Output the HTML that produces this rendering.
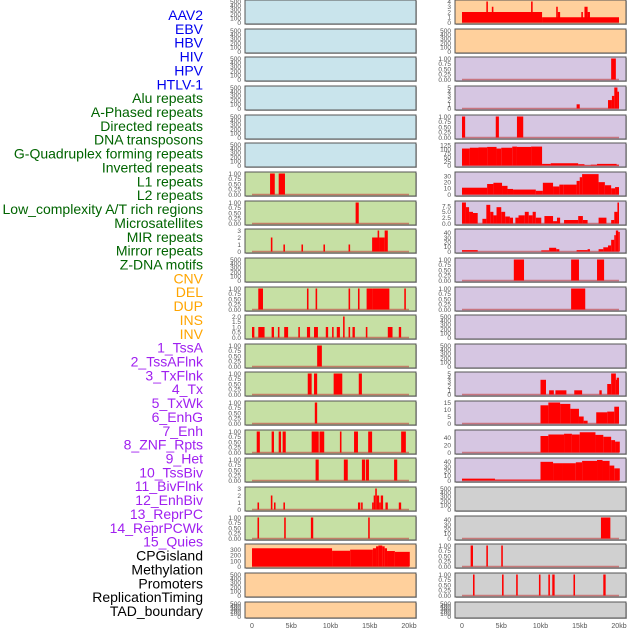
<!DOCTYPE html>
<html><head><meta charset="utf-8"><style>
body{margin:0;background:#fff;}
svg{display:block;font-family:"Liberation Sans",sans-serif;}
</style></head><body>
<svg id="c" width="630" height="630" viewBox="0 0 630 630"></svg>
<script>
const labels=["AAV2","EBV","HBV","HIV","HPV","HTLV-1","Alu repeats","A-Phased repeats","Directed repeats","DNA transposons","G-Quadruplex forming repeats","Inverted repeats","L1 repeats","L2 repeats","Low_complexity A/T rich regions","Microsatellites","MIR repeats","Mirror repeats","Z-DNA motifs","CNV","DEL","DUP","INS","INV","1_TssA","2_TssAFlnk","3_TxFlnk","4_Tx","5_TxWk","6_EnhG","7_Enh","8_ZNF_Rpts","9_Het","10_TssBiv","11_BivFlnk","12_EnhBiv","13_ReprPC","14_ReprPCWk","15_Quies","CPGisland","Methylation","Promoters","ReplicationTiming","TAD_boundary"];
const labelColors=["#0000ee","#0000ee","#0000ee","#0000ee","#0000ee","#0000ee","#006400","#006400","#006400","#006400","#006400","#006400","#006400","#006400","#006400","#006400","#006400","#006400","#006400","#ffa500","#ffa500","#ffa500","#ffa500","#ffa500","#a020f0","#a020f0","#a020f0","#a020f0","#a020f0","#a020f0","#a020f0","#a020f0","#a020f0","#a020f0","#a020f0","#a020f0","#a020f0","#a020f0","#a020f0","#000","#000","#000","#000","#000"];
const xTicks=[0,5,10,15,20];
const xTickLabels=["0","5kb","10kb","15kb","20kb"];
const E=[0,100,200,300,400,500], P=[0,0.25,0.5,0.75,1];
const leftBg=["#c9e4ec","#c9e4ec","#c9e4ec","#c9e4ec","#c9e4ec","#c9e4ec","#c6e0a4","#c6e0a4","#c6e0a4","#c6e0a4","#c6e0a4","#c6e0a4","#c6e0a4","#c6e0a4","#c6e0a4","#c6e0a4","#c6e0a4","#c6e0a4","#c6e0a4","#ffd09c","#ffd09c","#ffd09c"];
const rightBg=["#ffd09c","#ffd09c","#d6c6e2","#d6c6e2","#d6c6e2","#d6c6e2","#d6c6e2","#d6c6e2","#d6c6e2","#d6c6e2","#d6c6e2","#d6c6e2","#d6c6e2","#d6c6e2","#d6c6e2","#d6c6e2","#d6c6e2","#d0d0d0","#d0d0d0","#d0d0d0","#d0d0d0","#d0d0d0"];
const leftTicks=[E,E,E,E,E,E,P,P,[0,1,2,3],E,P,[0,0.5,1,1.5,2],P,P,P,P,P,[0,1,2,3],P,[0,100,200,300],E,E];
const leftDec=[0,0,0,0,0,0,2,2,0,0,2,1,2,2,2,2,2,0,2,0,0,0];
const leftMax=[500,500,500,500,500,500,1,1,3,500,1,2,1,1,1,1,1,3,1,380,500,500];
const rightTicks=[[0,1,2,3,4],E,P,[0,1,2,3,4,5],P,[0,25,50,75,100,125],[0,10,20,30],[0,2.5,5,7.5],[0,10,20,30,40],P,P,E,E,[0,1,2,3,4,5],[0,5,10,15],[0,20,40],[0,10,20,30,40],E,[0,10,20,30,40],P,P,E];
const rightDec=[0,0,2,0,2,0,0,1,0,2,2,0,0,0,0,0,0,0,0,2,2,0];
const rightMax=[4,500,1,5,1,130,34,9,45,1,1,500,500,5,15,56,45,500,45,1,1,500];
const leftBars=[[],[],[],[],[],[],
[[2.3,2.9,1],[3.4,4.2,1]],
[[13.2,13.6,1]],
[[2.4,2.6,2],[4.0,4.2,1],[6.3,6.5,1],[9.1,9.3,1],[12.3,12.5,1],[15.3,16.3,2],[16.0,16.2,3],[16.3,16.9,2],[16.9,17.3,3]],
[],
[[0.8,1.4,1],[7.0,7.2,1],[8.1,8.3,1],[12.3,12.5,1],[13.5,13.7,1],[14.6,15.3,1],[15.3,17.5,1],[19.4,19.6,1]],
[[0.0,0.3,1],[0.8,1.6,1],[2.5,2.8,1],[3.3,3.5,1],[4.1,4.6,1],[5.9,6.1,1],[7.0,7.4,1],[7.9,8.4,1],[9.4,9.7,1],[10.2,10.4,1],[10.8,11.2,1],[11.6,11.8,2],[12.3,12.5,1],[12.8,13.1,1],[14.5,14.7,1],[17.3,17.9,1],[18.7,19.0,1]],
[[8.3,8.9,1]],
[[7.1,7.6,1],[7.9,8.3,1],[10.4,11.5,1],[13.6,14.0,1]],
[[8.0,8.3,1]],
[[0.6,1.0,1],[2.5,2.8,1],[3.4,3.7,1],[3.9,4.3,1],[7.6,8.5,1],[8.6,9.2,1],[11.2,11.4,1],[13.0,13.5,1],[14.8,15.3,1],[19.0,19.6,1]],
[[8.1,8.5,1],[11.7,12.2,1],[14.0,14.4,1],[14.5,14.9,1],[18.1,18.5,1]],
[[0.7,0.9,1],[2.4,2.6,2],[2.8,3.0,1],[4.0,4.2,1],[13.5,13.8,1],[13.9,14.1,1],[15.3,15.5,1],[15.5,15.7,2],[15.7,15.9,3],[15.9,16.2,2],[16.2,16.4,1],[16.4,16.7,2],[17.0,17.3,1],[18.7,19.0,1]],
[[0.7,0.9,1],[4.1,4.3,1],[7.5,7.8,1],[14.8,15.0,1]],
[[0,10.2,330],[10.2,12.5,285],[12.5,15.4,305],[15.4,15.8,330],[15.8,16.1,365],[16.1,16.6,380],[16.6,16.9,365],[16.9,17.2,330],[17.2,18.2,280],[18.2,20.1,265]],
[],[]];
const rightBars=[
[[0,10.2,2],[10.2,20,1],[3.1,3.3,4],[3.8,4.0,3],[8.8,9.0,4],[12.0,12.2,3],[12.2,12.5,2],[15.2,15.4,2],[15.6,16.0,3],[16.0,16.3,2]],
[],
[[19.0,19.6,1]],
[[14.6,15.0,1],[18.6,19.1,2],[19.1,19.4,3],[19.4,19.8,5],[19.8,20.0,4]],
[[0,0.4,1],[4.3,4.7,1],[7.0,7.8,1]],
[[0,1,105],[1,2.1,110],[2.1,3.2,112],[3.2,4.4,115],[4.4,5.0,105],[5.0,6.4,110],[6.4,7.0,117],[7.0,8.8,115],[8.8,10.2,117],[10.2,11.3,10],[11.3,14.8,14],[14.8,15.6,8],[15.6,16.4,2],[16.4,17.2,5],[17.2,19.7,10],[19.7,20.0,5]],
[[0,3.2,11],[3.2,4.0,17],[4.0,5.1,19],[5.1,5.8,14],[5.8,6.5,9],[6.5,9.4,8],[9.4,10.3,6],[10.3,11.6,19],[11.6,12.4,13],[12.4,12.9,16],[12.9,14.6,16],[14.6,15.0,22],[15.0,15.3,28],[15.3,17.4,33],[17.4,18.2,20],[18.2,19.0,15],[19.0,19.5,10],[19.5,20.0,12]],
[[0,0.5,9],[0.5,0.9,7],[0.9,1.4,5],[1.4,2.0,4.5],[2.6,3.1,2],[3.1,3.6,8],[3.6,4.0,5],[4.0,4.4,3.5],[4.4,5.0,7],[5.0,5.5,5],[5.5,6.1,3],[6.1,6.5,2.5],[6.8,7.2,2.5],[7.2,8.0,3.5],[8.0,8.5,5],[8.5,9.0,3.5],[9.0,9.4,5],[9.4,10.1,2.5],[10.5,11.6,3.2],[11.6,12.1,1],[12.1,12.5,2.5],[13.0,14.8,1.5],[14.8,15.4,3.2],[15.4,16.0,1.5],[17.4,18.4,2.5],[19.0,19.4,1.5],[19.4,19.8,5],[19.8,20.0,9]],
[[0,2,3],[10.1,11.1,2.5],[11.1,12.0,8],[12.0,12.4,5],[14.6,16.0,3],[16.0,16.3,5],[17.4,18.0,5],[18.0,18.6,9],[18.6,19.0,13],[19.0,19.4,25],[19.4,19.6,35],[19.6,19.9,45],[19.9,20.1,42]],
[[6.6,7.9,1],[13.9,14.9,1],[17.2,18.1,1]],
[[13.9,15.7,1]],
[],[],
[[10.0,10.7,3.5],[11.1,11.7,1],[11.9,13.3,1],[14.3,15.3,1],[17.5,17.8,1],[18.5,19.0,2.5],[19.0,19.6,5],[19.6,19.7,3.5],[19.7,20.0,4]],
[[10.0,11.0,13],[11.0,12.5,15],[12.5,13.8,14],[13.8,14.9,10.5],[14.9,15.5,5],[15.5,16.0,2],[17.1,18.5,8],[18.5,19.4,8.5],[19.4,20.0,12]],
[[10,11,44],[11,13,48],[13,14,50],[14,15,48],[15,17,54],[17,18,47],[18,19,42],[19,19.5,33],[19.5,20.1,29]],
[[0,4.2,4],[4.2,10,2],[10,11.6,40],[11.6,12.8,37],[12.8,14.5,37],[14.5,15.3,39],[15.3,17.2,42],[17.2,17.9,44],[17.9,18.8,42],[18.8,19.4,32],[19.4,20.1,26]],
[],
[[17.7,18.9,45]],
[[1.1,1.4,1],[3.1,3.3,1],[5.0,5.2,1]],
[[1.4,1.6,1],[5.1,5.3,1],[6.9,7.1,1],[9.8,10.0,1],[11.0,11.2,1],[11.5,11.8,1],[14.2,14.4,1],[18.0,18.3,1]],
[]];

const NS="http://www.w3.org/2000/svg";
const svg=document.getElementById('c');
function mk(t,a,p){const e=document.createElementNS(NS,t);for(const k in a)e.setAttribute(k,a[k]);(p||svg).appendChild(e);return e;}
const rowTops=[];for(let i=0;i<22;i++)rowTops.push(Math.round(i*28.65));
function rowH(i){return i===21?16:24;}
const cols=[{x:245,w:171,x0:252,bg:leftBg,ticks:leftTicks,dec:leftDec,max:leftMax,bars:leftBars,name:'left'},{x:455,w:171,x0:462,bg:rightBg,ticks:rightTicks,dec:rightDec,max:rightMax,bars:rightBars,name:'right'}];
const kbScale=7.85;
labels.forEach((l,i)=>{
  const t=mk('text',{x:203,y:20+i*13.86,'text-anchor':'end','font-size':'14',fill:labelColors[i]});
  t.textContent=l;
  
  
});
cols.forEach(c=>{
  const xs=kb=>c.x0+kb*kbScale;
  for(let i=0;i<22;i++){
    const top=rowTops[i],h=rowH(i),bot=top+h;
    const g=mk('g',{});
    
    
    mk('rect',{x:c.x+1,y:top+1,width:c.w,height:h,fill:'#bbb'},g);
    mk('rect',{x:c.x,y:top,width:c.w,height:h,fill:c.bg[i],stroke:'#555','stroke-width':1},g);
    const ys=v=>bot-1.5-(v/c.max[i])*(h-3);
    if(c.bars[i].length||c.ticks[i]!==E){
      const bl=mk('line',{x1:xs(0),x2:xs(20),y1:ys(0),y2:ys(0),stroke:'#c04040','stroke-width':1.5,opacity:0.6},g);
      
      
    }
    c.bars[i].forEach(b=>{
      const x1=xs(b[0]),x2=xs(b[1]);
      const r=mk('rect',{x:x1,y:ys(b[2]),width:Math.max(1.5,x2-x1),height:ys(0)-ys(b[2]),fill:'#ff0000'},g);
      
      
    });
    c.ticks[i].forEach(tv=>{
      const t=mk('text',{x:c.x-4,y:ys(tv)+2.3,'text-anchor':'end','font-size':'6.5',fill:'#555'},g);
      t.textContent=tv.toFixed(c.dec[i]);
      
      
    });
  }
  xTicks.forEach((v,j)=>{
    const t=mk('text',{x:xs(v),y:628,'text-anchor':'middle','font-size':'7',fill:'#555'});
    t.textContent=xTickLabels[j];
    
    
  });
});
</script>
</body></html>
